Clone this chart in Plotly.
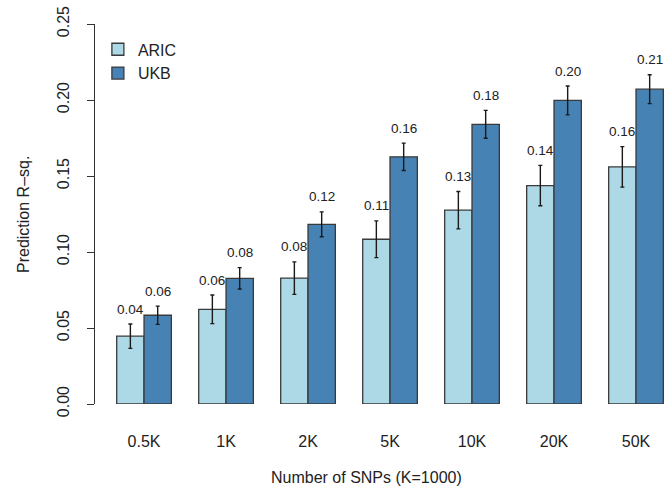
import plotly.graph_objects as go

# Prediction R-squared by number of SNPs for two cohorts
snp_labels = ["0.5K", "1K", "2K", "5K", "10K", "20K", "50K"]
aric_r2 = [0.0446, 0.0623, 0.0828, 0.1084, 0.1275, 0.1437, 0.156]
aric_err = [0.008, 0.0094, 0.0107, 0.0121, 0.0123, 0.0133, 0.0133]
ukb_r2 = [0.0584, 0.0827, 0.1182, 0.1626, 0.184, 0.1997, 0.2071]
ukb_err = [0.006, 0.007, 0.0082, 0.009, 0.0092, 0.0095, 0.0095]
y_ticks = [0.00, 0.05, 0.10, 0.15, 0.20, 0.25]

FONT = "Liberation Sans, Arial, Helvetica, sans-serif"
ARIC_COLOR = "#ADD8E6"
UKB_COLOR = "#4682B4"

xs = list(range(len(snp_labels)))

fig = go.Figure()
for name, vals, errs, color in [
    ("ARIC", aric_r2, aric_err, ARIC_COLOR),
    ("UKB", ukb_r2, ukb_err, UKB_COLOR),
]:
    fig.add_trace(go.Bar(
        x=xs, y=vals, name=name,
        marker=dict(color=color, line=dict(color="#3a3a3a", width=1.3)),
        error_y=dict(type="data", array=errs, visible=True,
                     color="#1a1a1a", thickness=1.4, width=2),
    ))

# value labels above each error bar
annotations = []
for i in xs:
    for vals, errs, off in [(aric_r2, aric_err, -1 / 6), (ukb_r2, ukb_err, 1 / 6)]:
        annotations.append(dict(
            x=i + off, y=vals[i] + errs[i], xref="x", yref="y",
            text=f"{vals[i]:.2f}", showarrow=False,
            yanchor="middle", yshift=15,
            font=dict(family=FONT, size=13.5, color="#222222"),
        ))

# axis titles
annotations.append(dict(
    x=0.4714, y=-0.194, xref="paper", yref="paper",
    text="Number of SNPs (K=1000)", showarrow=False,
    xanchor="center", yanchor="middle",
    font=dict(family=FONT, size=16, color="#222222"),
))
annotations.append(dict(
    x=-0.1248, y=0.5, xref="paper", yref="paper",
    text="Prediction R\u2013sq.", showarrow=False, textangle=-90,
    xanchor="center", yanchor="middle",
    font=dict(family=FONT, size=16, color="#222222"),
))

fig.update_layout(
    width=672, height=490,
    margin=dict(l=95, r=0, t=24, b=86),
    paper_bgcolor="white", plot_bgcolor="white",
    barmode="group", bargap=1 / 3, bargroupgap=0,
    font=dict(family=FONT, size=16, color="#222222"),
    showlegend=True,
    legend=dict(
        x=0.005, y=0.978, xanchor="left", yanchor="top",
        bgcolor="rgba(0,0,0,0)", font=dict(family=FONT, size=16),
        itemwidth=30, tracegroupgap=0,
    ),
    annotations=annotations,
    xaxis=dict(
        range=[-0.598, 6.439], tickmode="array",
        tickvals=xs, ticktext=snp_labels,
        showline=False, showgrid=False, zeroline=False,
        ticks="", ticklabelstandoff=26,
        tickfont=dict(family=FONT, size=16, color="#222222"),
    ),
    yaxis=dict(
        range=[0, 0.25], tickmode="array", tickvals=y_ticks,
        ticktext=[f"{v:.2f}" for v in y_ticks],
        showline=True, linecolor="#333333", linewidth=1.2,
        showgrid=False, zeroline=False,
        ticks="outside", ticklen=7, tickcolor="#333333", tickwidth=1.2,
        tickangle=-90, ticklabelstandoff=12,
        tickfont=dict(family=FONT, size=16, color="#222222"),
    ),
)

fig.write_html("out.html")
